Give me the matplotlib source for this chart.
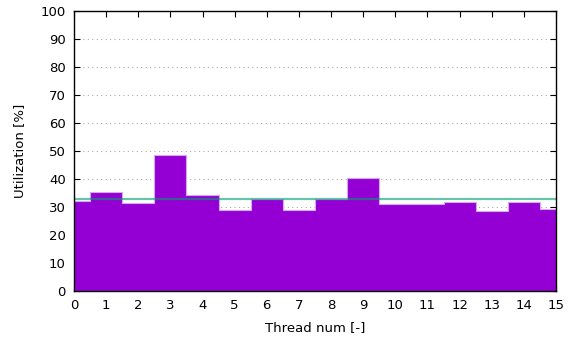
import matplotlib
matplotlib.use("Agg")
import matplotlib.pyplot as plt
import numpy as np

threads = list(range(16))
utilization = [32.3, 35.5, 31.4, 48.6, 34.3, 28.9, 32.7, 28.9, 32.7, 40.2,
               31.1, 31.2, 31.8, 28.6, 31.8, 29.2]
mean_util = 32.9
yticks = list(range(0, 101, 10))
xticks = list(range(0, 16))

plt.rcParams['font.family'] = ['DejaVu Sans']
fig = plt.figure(figsize=(5.78, 3.44), dpi=100)
ax = fig.add_axes([0.128, 0.154, 0.834, 0.814])

ax.bar(threads, utilization, width=1.0, color='#9400D3', linewidth=0, zorder=2)
# light outline along the top of the bars
xs = [threads[0] - 0.5] + threads + [threads[-1] + 0.5]
ys = [utilization[0]] + utilization + [utilization[-1]]
ax.step(xs, ys, where='mid', color='#d9a6f0', linewidth=0.8, zorder=2.5)
ax.axhline(mean_util, color='#009E73', alpha=0.6, linewidth=1.6, zorder=3)

ax.set_xlim(0, 15)
ax.set_ylim(0, 100)
ax.set_xticks(xticks)
ax.set_yticks(yticks)
ax.yaxis.grid(True, linestyle=(0, (1, 3)), color='#aaaaaa', linewidth=0.8, zorder=0)
ax.set_axisbelow(True)
ax.tick_params(direction='in', top=True, right=True, length=4, labelsize=9.5,
               width=0.8, pad=6)
for s in ax.spines.values():
    s.set_linewidth(1.0)
    s.set_zorder(4)
ax.set_xlabel('Thread num [-]', fontsize=9.5, labelpad=6)
ax.set_ylabel('Utilization [%]', fontsize=9.5, labelpad=10)

fig.savefig('out.png', dpi=100)
